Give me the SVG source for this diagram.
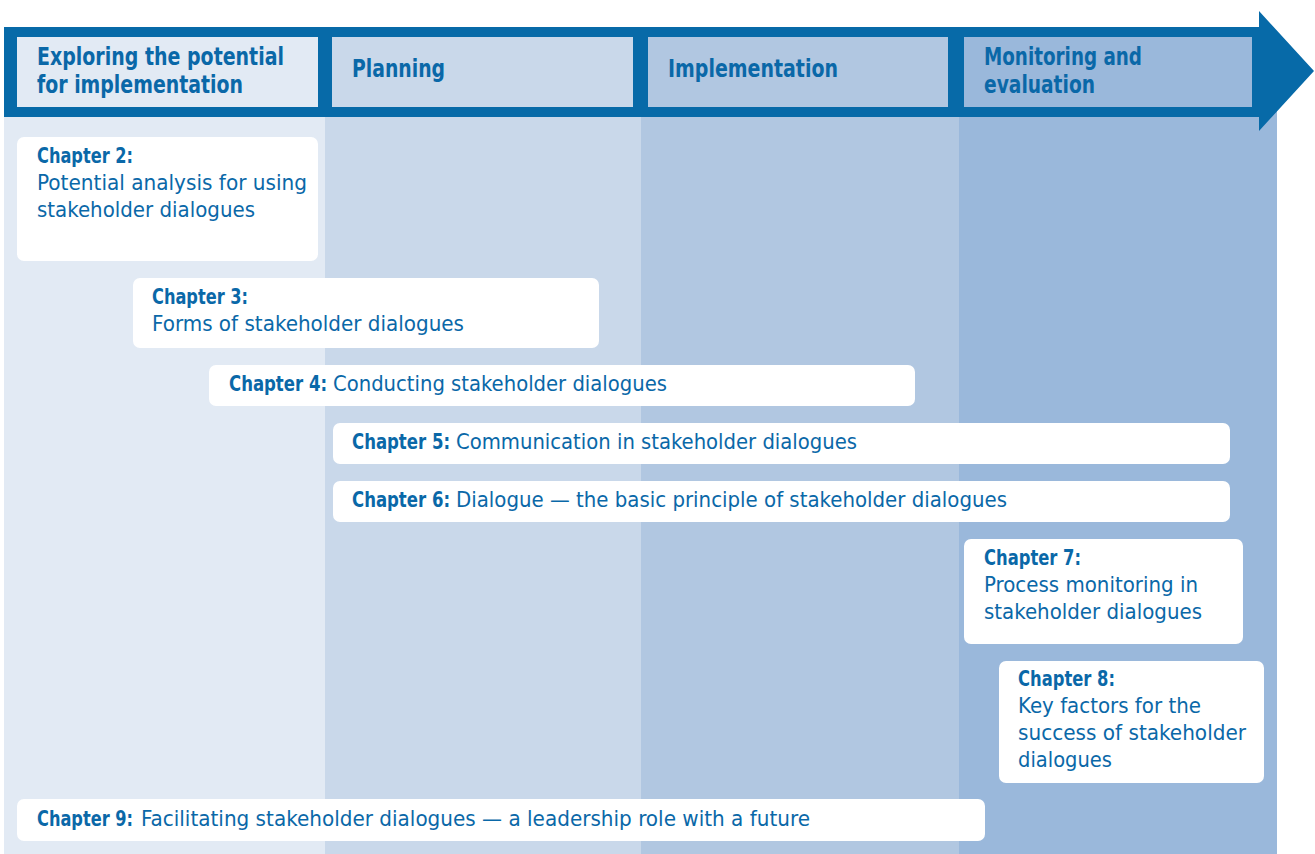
<svg xmlns="http://www.w3.org/2000/svg" width="1315" height="854" viewBox="0 0 1315 854">
<style>
text{font-family:"DejaVu Sans Condensed","Liberation Sans Narrow","Liberation Sans",sans-serif;fill:#0A68A8;}
.h{font-size:24px;font-weight:bold;}
.c{font-size:21px;}
.b{font-size:21px;font-weight:bold;}
.box{fill:#FFFFFF;}
</style>
<rect width="1315" height="854" fill="#FFFFFF"/>
<g id="columns">
<rect x="4" y="110" width="321" height="744" fill="#E2EAF4"/>
<rect x="325" y="110" width="316" height="744" fill="#C9D8EA"/>
<rect x="641" y="110" width="318" height="744" fill="#B1C7E1"/>
<rect x="959" y="110" width="318" height="744" fill="#9AB8DB"/>
</g>
<g id="arrow">
<polygon points="4,27 1259,27 1259,11 1314,71 1259,131 1259,117 4,117" fill="#076AA8"/>
</g>
<g id="phase1">
<rect x="17" y="37" width="301" height="70" fill="#E2EAF4"/>
<text class="h" x="37" y="65" textLength="247" lengthAdjust="spacingAndGlyphs">Exploring the potential</text>
<text class="h" x="37" y="93" textLength="206" lengthAdjust="spacingAndGlyphs">for implementation</text>
</g>
<g id="phase2">
<rect x="332" y="37" width="301" height="70" fill="#C9D8EA"/>
<text class="h" x="352" y="77" textLength="93" lengthAdjust="spacingAndGlyphs">Planning</text>
</g>
<g id="phase3">
<rect x="648" y="37" width="300" height="70" fill="#B1C7E1"/>
<text class="h" x="668" y="77" textLength="170" lengthAdjust="spacingAndGlyphs">Implementation</text>
</g>
<g id="phase4">
<rect x="964" y="37" width="288" height="70" fill="#9AB8DB"/>
<text class="h" x="984" y="65" textLength="158" lengthAdjust="spacingAndGlyphs">Monitoring and</text>
<text class="h" x="984" y="93" textLength="111" lengthAdjust="spacingAndGlyphs">evaluation</text>
</g>
<g id="connectors"></g>
<g id="ch2">
<rect class="box" x="17" y="137" width="301" height="124" rx="7"/>
<text class="b" x="37" y="163" textLength="96" lengthAdjust="spacingAndGlyphs">Chapter 2:</text>
<text class="c" x="37" y="190" textLength="270" lengthAdjust="spacingAndGlyphs">Potential analysis for using</text>
<text class="c" x="37" y="217" textLength="218" lengthAdjust="spacingAndGlyphs">stakeholder dialogues</text>
</g>
<g id="ch3">
<rect class="box" x="133" y="278" width="466" height="70" rx="7"/>
<text class="b" x="152" y="304" textLength="96" lengthAdjust="spacingAndGlyphs">Chapter 3:</text>
<text class="c" x="152" y="331" textLength="312" lengthAdjust="spacingAndGlyphs">Forms of stakeholder dialogues</text>
</g>
<g id="ch4">
<rect class="box" x="209" y="365" width="706" height="41" rx="7"/>
<text class="b" x="229" y="391" textLength="98" lengthAdjust="spacingAndGlyphs">Chapter 4:</text>
<text class="c" x="333" y="391" textLength="334" lengthAdjust="spacingAndGlyphs">Conducting stakeholder dialogues</text>
</g>
<g id="ch5">
<rect class="box" x="333" y="423" width="897" height="41" rx="7"/>
<text class="b" x="352" y="449" textLength="98" lengthAdjust="spacingAndGlyphs">Chapter 5:</text>
<text class="c" x="456" y="449" textLength="401" lengthAdjust="spacingAndGlyphs">Communication in stakeholder dialogues</text>
</g>
<g id="ch6">
<rect class="box" x="333" y="481" width="897" height="41" rx="7"/>
<text class="b" x="352" y="507" textLength="98" lengthAdjust="spacingAndGlyphs">Chapter 6:</text>
<text class="c" x="456" y="507" textLength="551" lengthAdjust="spacingAndGlyphs">Dialogue — the basic principle of stakeholder dialogues</text>
</g>
<g id="ch7">
<rect class="box" x="964" y="539" width="279" height="105" rx="7"/>
<text class="b" x="984" y="565" textLength="97" lengthAdjust="spacingAndGlyphs">Chapter 7:</text>
<text class="c" x="984" y="592" textLength="214" lengthAdjust="spacingAndGlyphs">Process monitoring in</text>
<text class="c" x="984" y="619" textLength="218" lengthAdjust="spacingAndGlyphs">stakeholder dialogues</text>
</g>
<g id="ch8">
<rect class="box" x="999" y="661" width="265" height="122" rx="7"/>
<text class="b" x="1018" y="686" textLength="97" lengthAdjust="spacingAndGlyphs">Chapter 8:</text>
<text class="c" x="1018" y="713" textLength="183" lengthAdjust="spacingAndGlyphs">Key factors for the</text>
<text class="c" x="1018" y="740" textLength="228" lengthAdjust="spacingAndGlyphs">success of stakeholder</text>
<text class="c" x="1018" y="767" textLength="94" lengthAdjust="spacingAndGlyphs">dialogues</text>
</g>
<g id="ch9">
<rect class="box" x="17" y="799" width="968" height="42" rx="7"/>
<text class="b" x="37" y="826" textLength="96" lengthAdjust="spacingAndGlyphs">Chapter 9:</text>
<text class="c" x="141" y="826" textLength="669" lengthAdjust="spacingAndGlyphs">Facilitating stakeholder dialogues — a leadership role with a future</text>
</g>
</svg>
